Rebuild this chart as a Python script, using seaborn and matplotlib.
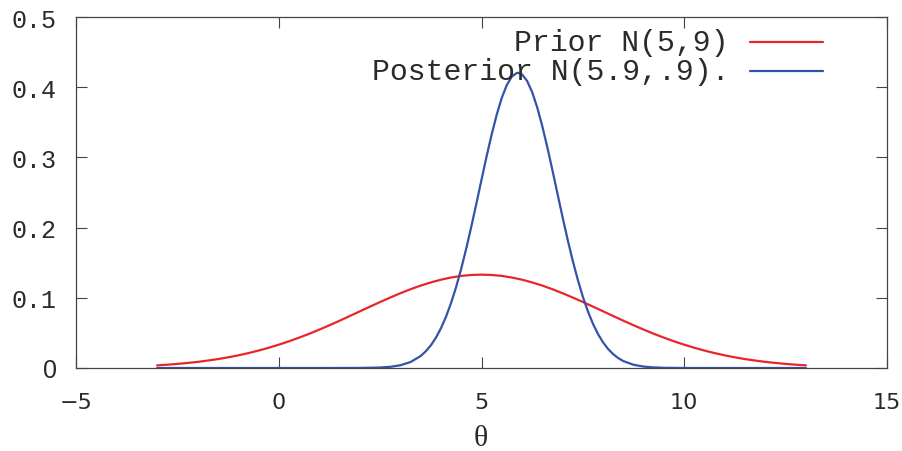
import matplotlib
matplotlib.use("Agg")
import matplotlib.pyplot as plt
import seaborn as sns
import pandas as pd

# Prior N(5,9) density
prior_x = [-3, -2.75, -2.5, -2.25, -2, -1.75, -1.5, -1.25, -1, -0.75, -0.5, -0.25,
           0, 0.25, 0.5, 0.75, 1, 1.25, 1.5, 1.75, 2, 2.25, 2.5, 2.75, 3, 3.25, 3.5,
           3.75, 4, 4.25, 4.5, 4.75, 5, 5.25, 5.5, 5.75, 6, 6.25, 6.5, 6.75, 7, 7.25,
           7.5, 7.75, 8, 8.25, 8.5, 8.75, 9, 9.25, 9.5, 9.75, 10, 10.25, 10.5, 10.75,
           11, 11.25, 11.5, 11.75, 12, 12.25, 12.5, 12.75, 13]
prior_y = [0.0038, 0.0047, 0.0058, 0.0072, 0.0087, 0.0106, 0.0127, 0.0152, 0.0180,
           0.0212, 0.0248, 0.0288, 0.0332, 0.0380, 0.0432, 0.0487, 0.0547, 0.0609,
           0.0673, 0.0740, 0.0807, 0.0874, 0.0940, 0.1004, 0.1065, 0.1122, 0.1174,
           0.1219, 0.1258, 0.1289, 0.1312, 0.1325, 0.1330, 0.1325, 0.1312, 0.1289,
           0.1258, 0.1219, 0.1174, 0.1122, 0.1065, 0.1004, 0.0940, 0.0874, 0.0807,
           0.0740, 0.0673, 0.0609, 0.0547, 0.0487, 0.0432, 0.0380, 0.0332, 0.0288,
           0.0248, 0.0212, 0.0180, 0.0152, 0.0127, 0.0106, 0.0087, 0.0072, 0.0058,
           0.0047, 0.0038]

# Posterior N(5.9,.9) density
post_x = [-3, 0, 1, 2, 2.5, 2.75, 3, 3.25, 3.5, 3.625, 3.75, 3.875, 4, 4.125, 4.25,
          4.375, 4.5, 4.625, 4.75, 4.875, 5, 5.125, 5.25, 5.375, 5.5, 5.625, 5.75,
          5.875, 5.9, 6, 6.125, 6.25, 6.375, 6.5, 6.625, 6.75, 6.875, 7, 7.125, 7.25,
          7.375, 7.5, 7.625, 7.75, 7.875, 8, 8.125, 8.25, 8.375, 8.5, 8.75, 9, 9.25,
          9.5, 10, 11, 13]
post_y = [0.0, 0.0, 0.0, 0.0001, 0.0007, 0.0017, 0.0039, 0.0085, 0.0171, 0.0237,
          0.0322, 0.0431, 0.0566, 0.0731, 0.0927, 0.1155, 0.1415, 0.1705, 0.2017,
          0.2346, 0.2681, 0.3012, 0.3325, 0.3608, 0.3848, 0.4032, 0.4153, 0.4204,
          0.4205, 0.4182, 0.4089, 0.3929, 0.3710, 0.3443, 0.3140, 0.2815, 0.2480,
          0.2147, 0.1827, 0.1528, 0.1256, 0.1014, 0.0805, 0.0628, 0.0482, 0.0363,
          0.0269, 0.0196, 0.0140, 0.0098, 0.0046, 0.0020, 0.0008, 0.0003, 0.0,
          0.0, 0.0]

labels = ["Prior N(5,9)", "Posterior N(5.9,.9)."]
x_ticks = [-5, 0, 5, 10, 15]
x_tick_labels = ["\u22125", "0", "5", "10", "15"]
y_ticks = [0, 0.1, 0.2, 0.3, 0.4, 0.5]
y_tick_labels = ["0", "0.1", "0.2", "0.3", "0.4", "0.5"]

df = pd.concat([
    pd.DataFrame({"x": prior_x, "y": prior_y, "series": labels[0]}),
    pd.DataFrame({"x": post_x, "y": post_y, "series": labels[1]}),
])

sns.set_style("ticks")
fig = plt.figure(figsize=(9.02, 4.52), dpi=100)
ax = fig.add_axes([76 / 902, 1 - 369 / 452, (887 - 76) / 902, (369 - 18) / 452])

palette = {labels[0]: "#e8262a", labels[1]: "#3452a8"}
sns.lineplot(data=df, x="x", y="y", hue="series", palette=palette, ax=ax,
             linewidth=1.6, estimator=None, legend=False)

ax.set_xlim(-5, 15)
ax.set_ylim(0, 0.5)
for s in ax.spines.values():
    s.set_visible(True)
    s.set_color("#444444")
    s.set_linewidth(0.9)

text_col = "#2a2a2a"
ax.set_xticks(x_ticks)
ax.set_xticklabels(x_tick_labels, fontfamily=["Liberation Sans Narrow", "DejaVu Sans"],
                   fontsize=16, color=text_col)
ax.set_yticks(y_ticks)
ax.set_yticklabels(y_tick_labels, fontfamily=["Liberation Mono", "DejaVu Sans Mono"],
                   fontsize=18, color=text_col)
# the zero label is drawn in a sans face
ax.get_yticklabels()[0].set_fontfamily(["Liberation Sans", "DejaVu Sans"])
ax.tick_params(axis="both", direction="in", length=8, width=0.8, color="#444444",
               top=True, right=True)
ax.tick_params(axis="y", pad=14)
ax.tick_params(axis="x", pad=17)
ax.set_xlabel("")
ax.set_ylabel("")
fig.text(481 / 902, 1 - 439 / 452, "θ", ha="center", va="center", fontsize=21.5,
         fontfamily=["Liberation Serif", "DejaVu Serif"], color=text_col)

# legend, gnuplot style: right-aligned text with sample line to the right
for i, lab in enumerate(labels):
    ypix = 452 - (43 + 29 * i)
    fig.text(729 / 902, ypix / 452, lab, ha="right", va="center", fontsize=21.5,
             fontfamily=["Liberation Mono", "DejaVu Sans Mono"], color=text_col)
    fig.add_artist(plt.Line2D([750 / 902, 823 / 902], [ypix / 452, ypix / 452],
                              color=palette[lab], linewidth=1.6,
                              transform=fig.transFigure))

fig.savefig("out.png", dpi=100)
